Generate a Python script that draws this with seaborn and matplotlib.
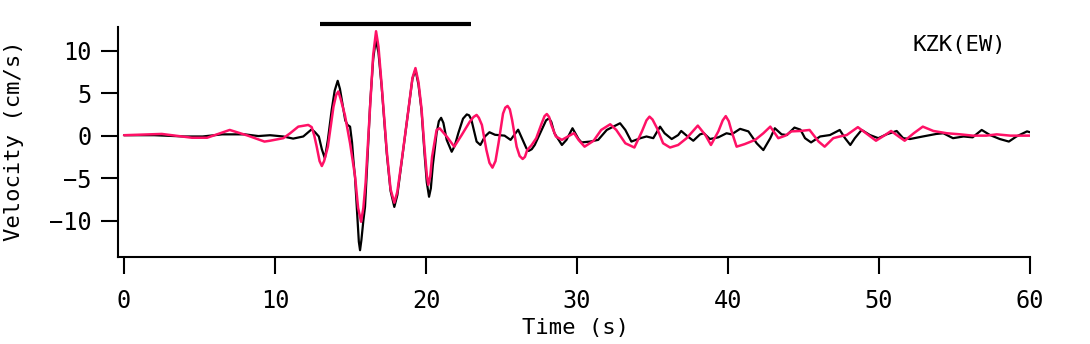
import numpy as np
import pandas as pd
import matplotlib
matplotlib.use("Agg")
import matplotlib.pyplot as plt
import seaborn as sns

t_obs = [0, 2, 4, 5.2, 6.5, 8, 8.9, 9.67, 10.55, 11.2, 11.87, 12.2, 12.43, 12.65, 12.9,
         13.1, 13.3, 13.5, 13.75, 13.95, 14.15, 14.3, 14.5, 14.65, 14.8, 14.97, 15.1,
         15.19, 15.3, 15.45, 15.55, 15.63, 15.72, 15.85, 15.96, 16.1, 16.3, 16.5,
         16.67, 16.85, 17.06, 17.4, 17.65, 17.9, 18.1, 18.4, 18.83, 19.1, 19.3, 19.5,
         19.7, 19.9, 20.05, 20.2, 20.32, 20.45, 20.7, 20.85, 21.0, 21.15, 21.37, 21.7,
         21.9, 22.14, 22.45, 22.7, 22.85, 23.0, 23.35, 23.6, 23.9, 24.2, 24.57, 25.2,
         25.6, 26.1, 26.4, 26.65, 26.8, 27.0, 27.2, 27.66, 27.95, 28.15, 28.3, 28.5,
         29.0, 29.3, 29.7, 30.1, 30.3,
         30.86, 31.4, 31.97, 32.85, 33.2, 33.6, 34.2, 34.6, 35.05, 35.5, 35.8, 36.27,
         36.7, 36.9, 37.26, 37.7, 38.15, 38.4, 38.8, 39.36, 39.9, 40.24, 40.8, 41.35,
         41.9, 42.34, 42.8, 43.1, 43.55, 43.9, 44.4, 44.8, 45.1, 45.5, 46.1, 46.75,
         47.4, 47.75, 48.1, 48.4, 48.85, 49.4, 49.95, 50.5, 51.17, 51.6, 52.05, 52.9,
         53.8, 54.26, 54.9, 55.6, 56.2, 56.8, 57.35, 58.0, 58.6, 59.1, 59.8, 60]
v_obs = [0.05, 0.05, -0.1, -0.1, 0.15, 0.15, -0.05, 0.05, -0.1, -0.35, -0.1, 0.4, 0.75, 0.4, -0.1,
         -1.6, -2.67, -0.5, 3.0, 5.3, 6.46, 5.5, 3.4, 1.8, 1.26, 1.06, -0.8,
         -2.9, -5.0, -9.5, -12.5, -13.5, -12.3, -10.0, -8.4, -3.5, 3.8, 9.0,
         11.3, 9.8, 5.8, -2.1, -6.5, -8.4, -7.0, -2.9, 3.0, 6.7, 7.76, 6.0,
         3.0, -2.1, -5.5, -7.2, -6.2, -3.5, 0.3, 1.7, 2.1, 1.5, -0.5, -1.9,
         -1.2, 0.3, 2.0, 2.5, 2.4, 1.9, -0.7, -1.1, -0.1, 0.4, 0.1, 0.0,
         -0.5, 0.7, -0.5, -1.5, -1.8, -1.6, -1.1, 0.67, 1.8, 2.05, 1.6, 0.3,
         -1.1, -0.5, 0.87, -0.4, -0.8,
         -0.7, -0.5, 0.67, 1.46, 0.67, -0.7, -0.3, -0.1, -0.3, 1.06, 0.28, -0.4,
         0.07, 0.55, 0.0, -0.6, 0.15, 0.28, -0.4, -0.2, 0.28, 0.15, 0.8, 0.5,
         -0.9, -1.7, -0.3, 0.87, 0.15, 0.07, 0.95, 0.7, -0.3, -0.8, -0.1, 0.07,
         0.67, -0.3, -1.1, -0.3, 0.67, 0.07, -0.3, 0.15, 0.55, -0.3, -0.4, -0.1,
         0.2, 0.28, -0.3, -0.1, -0.2, 0.67, 0.07, -0.4, -0.7, -0.1, 0.5, 0.4]

t_syn = [0, 2.5, 4.5, 5.5, 7.0, 8.2, 9.3, 9.67, 10.55, 11.0, 11.54, 12.2, 12.43, 12.6,
         12.76, 12.95, 13.1, 13.25, 13.5, 13.7, 13.87, 14.05, 14.19, 14.35, 14.63,
         14.97, 15.3, 15.5, 15.7, 15.85, 16.0, 16.3, 16.5, 16.69, 16.85, 17.06, 17.4,
         17.65, 17.9, 18.1, 18.4, 18.83, 19.1, 19.3, 19.5, 19.7, 19.9, 20.05, 20.15,
         20.28, 20.4, 20.7, 20.9, 21.37, 21.87, 22.36, 22.9, 23.15, 23.35, 23.5, 23.7,
         24.0, 24.2, 24.4, 24.6, 24.8, 25.1, 25.25, 25.4, 25.55, 25.7, 26.0, 26.2,
         26.4, 26.55, 26.7, 27.0, 27.3, 27.66, 27.85, 28.0, 28.15, 28.3, 28.6, 29.0,
         29.4, 29.8, 30.1, 30.5, 31.1, 31.6, 32.2, 32.6, 33.2, 33.8, 34.3, 34.6, 34.8,
         35.0, 35.3, 35.7, 36.16, 36.7, 37.26, 38.0, 38.5, 38.87, 39.36, 39.65, 39.85,
         40.05, 40.24, 40.57, 41.1, 41.8,
         42.34, 42.8, 43.33, 43.8, 44.2, 44.8, 45.4, 46.0, 46.4, 46.97, 47.4, 47.86,
         48.6, 49.14, 49.8, 50.4, 50.8, 51.3, 51.7, 52.3, 52.9, 53.6, 54.5, 55.4,
         56.2, 57.1, 57.8, 58.7, 60]
v_syn = [0.05, 0.2, -0.25, -0.25, 0.67, 0.0, -0.7, -0.6, -0.3, 0.28, 1.06, 1.26, 1.0, 0.0,
         -1.3, -3.0, -3.58, -3.0, -1.3, 1.2, 3.4, 4.8, 5.2, 4.3, 2.4,
         -0.9, -4.8, -8.5, -10.15, -8.5, -5.5, 3.5, 9.5, 12.3, 10.5, 6.0, -1.8,
         -6.3, -7.9, -6.6, -2.8, 3.0, 6.8, 7.96, 6.3, 3.2, -1.5, -4.6, -5.8,
         -4.8, -2.5, 0.67, 0.87, -0.1, -1.3, 0.07, 1.65, 2.2, 2.44, 2.1, 1.26,
         -1.7, -3.2, -3.77, -3.0, -0.9, 2.6, 3.3, 3.5, 3.1, 1.85, -1.3, -2.4,
         -2.75, -2.5, -1.7, -1.1, -0.3, 1.45, 2.3, 2.55, 2.2, 1.26, -0.1, -0.5,
         -0.1, 0.3, -0.5, -1.3, -0.6, 0.67, 1.34, 0.67, -0.9, -1.4, 0.5, 1.8, 2.24,
         1.9, 0.87, -0.9, -1.4, -1.1, -0.3, 1.18, 0.07, -1.1, 0.5, 1.8, 2.3,
         1.7, 0.5, -1.3, -1.0, -0.5,
         0.28, 1.06, -0.3, 0.0, 0.5, 0.55, 0.67, -0.7, -1.3, -0.3, -0.1, 0.07,
         1.0, 0.28, -0.6, 0.07, 0.55, -0.1, -0.6, 0.28, 1.06, 0.55, 0.28, 0.15,
         0.0, 0.0, 0.15, 0.0, 0.0]

window = [13, 23]          # time window marked by the bar
window_level = 13.1
station = "KZK(EW)"
x_ticks = [0, 10, 20, 30, 40, 50, 60]
y_ticks = [-10, -5, 0, 5, 10]

sns.set_theme(style="ticks")
plt.rcParams["font.family"] = ["DejaVu Sans Mono", "DejaVu Sans"]
plt.rcParams["font.size"] = 16
plt.rcParams["axes.labelcolor"] = "black"
plt.rcParams["text.color"] = "black"

df_obs = pd.DataFrame({"t": t_obs, "v": v_obs})
df_syn = pd.DataFrame({"t": t_syn, "v": v_syn})

fig = plt.figure(figsize=(10.9, 3.44), dpi=100)
ax = fig.add_axes([118 / 1090, 1 - 257 / 344, 912 / 1090, 230 / 344])

sns.lineplot(data=df_obs, x="t", y="v", ax=ax, color="black", lw=1.6,
             estimator=None, sort=False)
sns.lineplot(data=df_syn, x="t", y="v", ax=ax, color="#ff1166", lw=1.8,
             estimator=None, sort=False)

ax.plot(window, [window_level, window_level], color="black", lw=3,
        solid_capstyle="butt", clip_on=False)
ax.text(0.871, 0.92, station, transform=ax.transAxes, ha="left", va="center",
        fontsize=16, color="black")

ax.set_xlim(-0.4, 60)
ax.set_ylim(-14.3, 12.8)
ax.set_xticks(x_ticks)
ax.set_yticks(y_ticks)
ax.set_yticklabels([str(v).replace("-", "\u2212") for v in y_ticks])

for side in ["top", "right"]:
    ax.spines[side].set_visible(False)
for side in ["left", "bottom"]:
    ax.spines[side].set_linewidth(1.5)
    ax.spines[side].set_color("black")

ax.tick_params(axis="both", length=12, width=1.5, color="black",
               labelsize=17, labelcolor="black")
ax.tick_params(axis="x", pad=11)
ax.tick_params(axis="y", pad=7)

ax.set_xlabel("Time (s)", fontsize=16, color="black")
ax.set_ylabel("Velocity (cm/s)", fontsize=16, color="black")
ax.xaxis.set_label_coords(0.502, -0.265)
ax.yaxis.set_label_coords(-0.103, 0.504)

fig.savefig("out.png", dpi=100)
